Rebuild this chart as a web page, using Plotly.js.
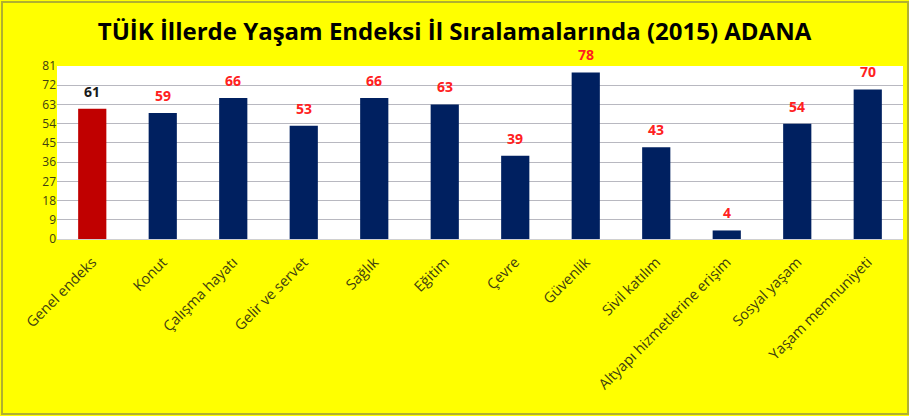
<!DOCTYPE html>
<html><head><meta charset="utf-8">
<script src="https://cdn.plot.ly/plotly-3.0.1.min.js"></script>
<style>html,body{margin:0;padding:0;background:#ffff00;}#c{width:909px;height:416px;}</style>
</head><body><div id="c"></div>
<script>
const categories = ["Genel endeks","Konut","Çalışma hayatı","Gelir ve servet","Sağlık","Eğitim","Çevre","Güvenlik","Sivil katılım","Altyapı hizmetlerine erişim","Sosyal yaşam","Yaşam memnuniyeti"];
const values = [61,59,66,53,66,63,39,78,43,4,54,70];
const yTicks = [0,9,18,27,36,45,54,63,72,81];

const barColors = values.map((v,i)=> i===0 ? "#c00000" : "#002060");
const labelColors = values.map((v,i)=> i===0 ? "#1a1a1a" : "#ff2020");

const trace = {
  type: "bar",
  x: categories,
  y: values,
  marker: {color: barColors, line:{width:0}},
  width: 0.4,
  cliponaxis: false,
  hoverinfo: "none"
};

const annotations = categories.map((c,i)=>({
  x: c, y: values[i], xref: "x", yref: "y",
  text: "<b>" + values[i] + "</b>", showarrow: false,
  yanchor: "bottom", yshift: 6,
  font: {family: "Open Sans, sans-serif", size: 14, color: labelColors[i]}
}));

const layout = {
  width: 909, height: 416,
  paper_bgcolor: "#ffff00",
  plot_bgcolor: "#ffffff",
  margin: {l: 57, r: 6, t: 66, b: 177},
  title: {text: "<b>TÜİK İllerde Yaşam Endeksi İl Sıralamalarında (2015) ADANA</b>",
          font: {family: "Open Sans, sans-serif", size: 24, color: "#000000"},
          x: 0.5, xanchor: "center", y: 0.925, yanchor: "middle"},
  xaxis: {tickangle: -45, tickfont: {family: "Open Sans, sans-serif", size: 14.5, color: "#404010"},
          showgrid: false, showline: true, linecolor: "#d0d0d0", ticks: "", fixedrange: true,
          ticklabelstandoff: 8},
  yaxis: {range: [0, 81], tickvals: yTicks, ticktext: yTicks.map(String),
          tickfont: {family: "Open Sans, sans-serif", size: 12, color: "#404010"},
          showgrid: true, gridcolor: "#b8b8c0", gridwidth: 1, zeroline: false,
          showline: false, ticks: "", ticklen: 0},
  bargap: 0.6,
  showlegend: false,
  annotations: annotations,
  shapes: [{type:"rect", xref:"paper", yref:"paper", x0:-55/846, x1:1+5/846, y0:-175/173, y1:1+64/173,
    line:{color:"#b0b030", width:2}, fillcolor:"rgba(0,0,0,0)"}]
};
Plotly.newPlot("c", [trace], layout, {displayModeBar: false, staticPlot: true});
</script></body></html>
